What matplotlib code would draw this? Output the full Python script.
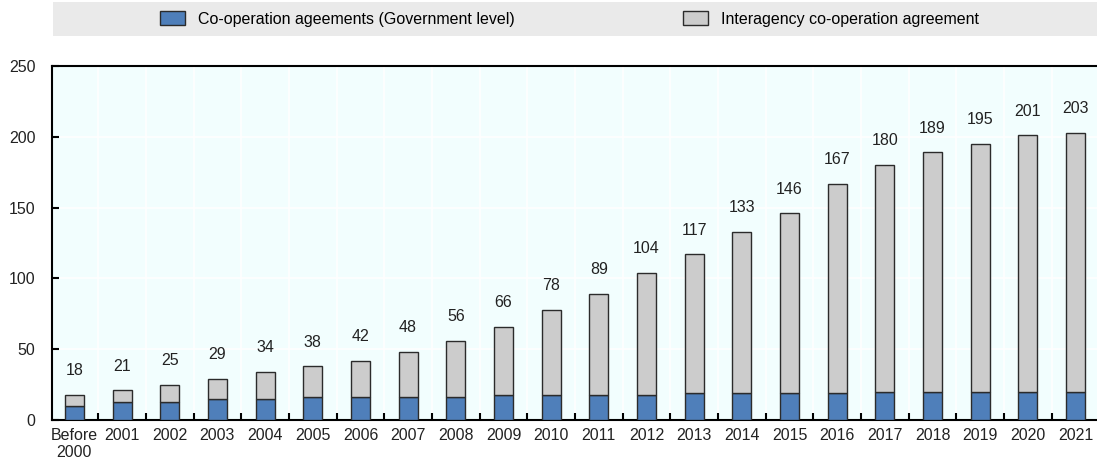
import matplotlib.pyplot as plt
import numpy as np
from matplotlib.patches import Rectangle, Patch

plt.rcParams['font.family'] = ['Liberation Sans Narrow', 'Liberation Sans', 'DejaVu Sans']

# Cumulative number of agreements per year
years = ['Before\n2000', '2001', '2002', '2003', '2004', '2005', '2006', '2007',
         '2008', '2009', '2010', '2011', '2012', '2013', '2014', '2015', '2016',
         '2017', '2018', '2019', '2020', '2021']
totals = [18, 21, 25, 29, 34, 38, 42, 48, 56, 66, 78, 89, 104, 117, 133, 146,
          167, 180, 189, 195, 201, 203]
government = [10, 13, 13, 15, 15, 16, 16, 16, 16, 18, 18, 18, 18, 19, 19, 19,
              19, 20, 20, 20, 20, 20]
interagency = [t - g for t, g in zip(totals, government)]

BLUE = '#4F7FBA'
GREY = '#CCCCCC'
EDGE = '#2b2b2b'

fig = plt.figure(figsize=(10.97, 4.68), dpi=100)
ax = fig.add_axes([52 / 1097, 48 / 468, 1 - 52 / 1097, 354 / 468])
ax.set_facecolor('#F2FEFE')

x = np.arange(len(years))
w = 0.4
ax.bar(x, government, width=w, color=BLUE, edgecolor=EDGE, linewidth=1, zorder=3)
ax.bar(x, interagency, width=w, bottom=government, color=GREY, edgecolor=EDGE,
       linewidth=1, zorder=3)

for xi, t in zip(x, totals):
    ax.annotate(str(t), (xi, t), xytext=(0, 12), textcoords='offset points',
                ha='center', va='bottom', fontsize=11.5, color='#222222')

ax.set_xlim(-0.47, 21.45)
ax.set_ylim(0, 250)
ax.set_yticks(np.arange(0, 251, 50))

# Category labels centred, ticks and vertical grid on the boundaries
ax.set_xticks(x)
ax.set_xticklabels(years, fontsize=11.5, color='#222222', linespacing=1.1)
ax.tick_params(axis='x', length=0, pad=6)
ax.set_xticks(np.arange(0.5, len(years) - 1, 1), minor=True)
ax.tick_params(axis='x', which='minor', direction='in', length=5, width=1.5,
               color='black')
ax.tick_params(axis='y', direction='in', length=5, width=1.5, labelsize=11.5,
               labelcolor='#222222', pad=12)

ax.grid(axis='y', which='major', color='white', linewidth=1.2, zorder=0)
ax.grid(axis='x', which='minor', color='white', linewidth=1.2, zorder=0)
ax.set_axisbelow(True)

for side in ['left', 'bottom', 'top']:
    ax.spines[side].set_linewidth(1.5)
    ax.spines[side].set_color('black')
ax.spines['right'].set_visible(False)

# Legend band across the top
fig.patches.append(Rectangle((53 / 1097, 1 - 36 / 468), 1 - 53 / 1097, 34 / 468,
                             transform=fig.transFigure, facecolor='#EAEAEA',
                             edgecolor='none', zorder=0))
handles = [Patch(facecolor=BLUE, edgecolor=EDGE, label='Co-operation ageements (Government level)'),
           Patch(facecolor=GREY, edgecolor=EDGE, label='Interagency co-operation agreement')]
fig.legend(handles=handles, loc='center', bbox_to_anchor=(0.519, 1 - 19 / 468), ncol=2,
           frameon=False, fontsize=11.5, handlelength=1.6, handleheight=0.9,
           columnspacing=10.5, handletextpad=0.8)

fig.savefig('out.png', dpi=100)
